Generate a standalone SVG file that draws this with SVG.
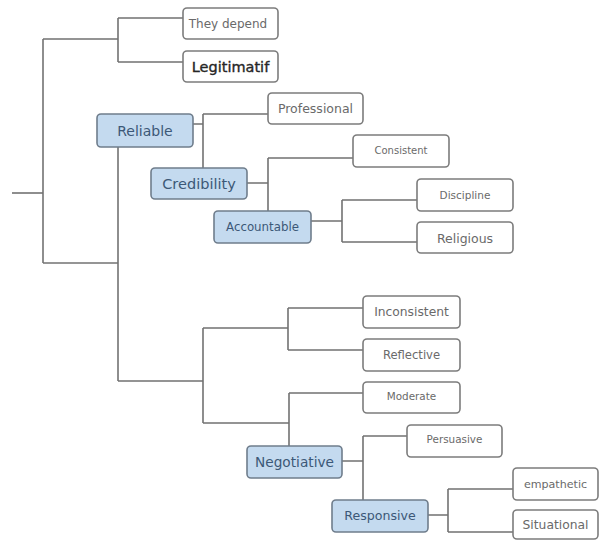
<svg xmlns="http://www.w3.org/2000/svg" width="602" height="541" viewBox="0 0 602 541">
  <style>
    .wire { fill: none; stroke: #727272; stroke-width: 1.6; }
    .leaf rect { fill: #ffffff; stroke: #7c7c7c; stroke-width: 1.6; }
    .leaf text { fill: #6a6a6a; font-family: "DejaVu Sans", Verdana, sans-serif; text-anchor: middle; dominant-baseline: central; }
    .key rect { fill: #c4daef; stroke: #6f7d8c; stroke-width: 1.6; }
    .key text { fill: #3c5877; font-family: "DejaVu Sans", Verdana, sans-serif; text-anchor: middle; dominant-baseline: central; }
    .strong { fill: #262626 !important; stroke: #262626; stroke-width: 0.35; }
  </style>
  <rect width="602" height="541" fill="#ffffff"/>

  <!-- connectors -->
  <g id="connectors" class="wire">
    <path d="M12 193 H43"/>
    <path d="M43 39 V263"/>
    <path d="M43 39 H118 M118 18 V62 M118 18 H183 M118 62 H183"/>
    <path d="M43 263 H118"/>
    <path d="M118 147 V381"/>
    <path d="M193 124 H203 M203 114 V168 M203 114 H268"/>
    <path d="M247 183 H268 M268 158 V211 M268 158 H353"/>
    <path d="M311 221 H342 M342 200 V242 M342 200 H417 M342 242 H417"/>
    <path d="M118 381 H203 M203 328 V423 M203 328 H288 M288 308 V350 M288 308 H363 M288 350 H363"/>
    <path d="M203 423 H289 M289 393 V446 M289 393 H363"/>
    <path d="M342 461 H363 M363 436 V500 M363 436 H407"/>
    <path d="M428 515 H448 M448 489 V532 M448 489 H513 M448 532 H513"/>
  </g>

  <!-- nodes -->
  <g id="they-depend" class="leaf">
    <rect x="183" y="8" width="95" height="31" rx="4"/>
    <text x="228" y="23.5" font-size="12">They depend</text>
  </g>
  <g id="legitimatif" class="leaf">
    <rect x="183" y="51" width="95" height="31" rx="4"/>
    <text class="strong" x="230.5" y="66.5" font-size="14.5">Legitimatif</text>
  </g>
  <g id="reliable" class="key">
    <rect x="97" y="114" width="96" height="33" rx="4"/>
    <text x="145" y="130.5" font-size="14">Reliable</text>
  </g>
  <g id="professional" class="leaf">
    <rect x="268" y="93" width="95" height="31" rx="4"/>
    <text x="315.5" y="108.5" font-size="12.5">Professional</text>
  </g>
  <g id="credibility" class="key">
    <rect x="151" y="168" width="96" height="31" rx="4"/>
    <text x="199" y="183.5" font-size="14.5">Credibility</text>
  </g>
  <g id="consistent" class="leaf">
    <rect x="353" y="135" width="96" height="32" rx="4"/>
    <text x="401" y="150" font-size="10">Consistent</text>
  </g>
  <g id="accountable" class="key">
    <rect x="214" y="211" width="97" height="32" rx="4"/>
    <text x="262.5" y="227" font-size="11.8">Accountable</text>
  </g>
  <g id="discipline" class="leaf">
    <rect x="417" y="179" width="96" height="32" rx="4"/>
    <text x="465" y="195" font-size="10.5">Discipline</text>
  </g>
  <g id="religious" class="leaf">
    <rect x="417" y="222" width="96" height="31" rx="4"/>
    <text x="465" y="238" font-size="12.5">Religious</text>
  </g>
  <g id="inconsistent" class="leaf">
    <rect x="363" y="296" width="97" height="32" rx="4"/>
    <text x="411.5" y="312" font-size="12.3">Inconsistent</text>
  </g>
  <g id="reflective" class="leaf">
    <rect x="363" y="339" width="97" height="32" rx="4"/>
    <text x="411.5" y="355" font-size="11.6">Reflective</text>
  </g>
  <g id="moderate" class="leaf">
    <rect x="363" y="382" width="97" height="31" rx="4"/>
    <text x="411.5" y="396" font-size="10.4">Moderate</text>
  </g>
  <g id="negotiative" class="key">
    <rect x="247" y="446" width="95" height="32" rx="4"/>
    <text x="294.5" y="462" font-size="13.7">Negotiative</text>
  </g>
  <g id="persuasive" class="leaf">
    <rect x="407" y="425" width="95" height="32" rx="4"/>
    <text x="454.5" y="439" font-size="10.4">Persuasive</text>
  </g>
  <g id="responsive" class="key">
    <rect x="332" y="500" width="96" height="32" rx="4"/>
    <text x="380" y="515.5" font-size="12.6">Responsive</text>
  </g>
  <g id="empathetic" class="leaf">
    <rect x="513" y="468" width="85" height="32" rx="4"/>
    <text x="555.5" y="484" font-size="11.1">empathetic</text>
  </g>
  <g id="situational" class="leaf">
    <rect x="513" y="510" width="85" height="29" rx="4"/>
    <text x="555.5" y="525" font-size="12.3">Situational</text>
  </g>
</svg>
